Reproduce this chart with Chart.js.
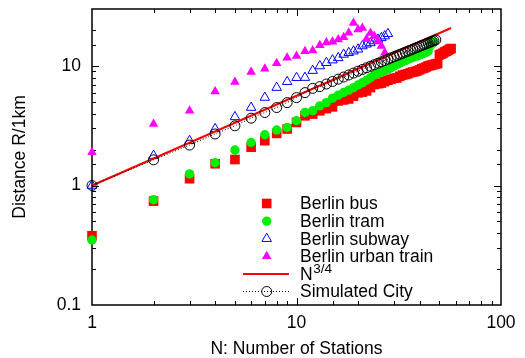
<!DOCTYPE html>
<html><head><meta charset="utf-8">
<script src="https://cdn.jsdelivr.net/npm/chart.js@4.4.0/dist/chart.umd.min.js"></script>
<style>html,body{margin:0;padding:0;background:#fff;}canvas{display:block;}</style>
</head><body>
<canvas id="c" width="525" height="358"></canvas>
<script>
// Number of stations N = 1, 2, 3, ... for each series; values are distance R in km
const busR = [0.38,0.74,1.14,1.52,1.65,2.09,2.37,2.73,2.97,3.37,3.83,3.96,4.22,4.4,4.55,5.1,5.2,5.3,5.6,5.96,
  6.05,6.19,6.6,7.0,7.1,7.2,7.4,7.6,7.75,7.9,7.95,8.2,8.4,8.5,8.6,8.8,8.9,9.0,9.1,9.3,
  9.5,9.6,9.8,10.0,10.1,10.2,10.3,10.4,10.5,12.4,12.6,12.8,13.1,13.3,13.5,13.8,14.0];
const tramR = [0.35,0.76,1.25,1.55,1.98,2.29,2.66,2.91,3.06,3.48,4.08,4.22,4.64,4.94,5.38,5.7,6.0,6.28,6.58,6.94,
  7.25,7.6,7.98,8.4,8.63,8.9,9.16,9.42,9.7,10.0,10.3,10.6,10.85,11.1,11.35,11.6,11.8,12.0,12.2,12.4,
  12.6,12.8,13.0,13.3,14.8,15.4,15.9];
const subwayR = [1.0,1.78,2.37,2.98,3.75,4.49,5.45,6.6,7.38,7.98,8.0,9.15,10.0,10.66,11.2,11.7,12.5,12.9,13.3,13.8,
  14.7,15.2,15.6,16.2,16.7,17.2,17.8,18.6];
const urbanR = [1.9,3.27,4.22,6.12,7.36,8.91,9.48,10.55,11.7,12.1,13.3,13.5,14.9,15.7,15.95,16.7,17.4,19.0,22.9,20.2,
  20.8,16.8,18.9,17.8,16.2,14.7,12.9];
const simR = [1.0,1.64,2.18,2.70,3.16,3.66,4.08,4.49,4.94,5.44,5.99,6.5,6.72,7.07,7.42,7.76,8.09,8.41,8.73,9.05,
  9.36,9.66,9.96,10.26,10.55,10.84,11.13,11.41,11.69,11.97,12.24,12.51,12.78,13.05,13.31,13.57,13.83,14.09,14.34,14.6,
  14.85,15.1,15.35,15.59,15.83,16.08,16.31,16.55];
const lawN = [1, 57];
const lawR = [1, 20.8];
const xTickLabels = [1, 10, 100];
const yTickLabels = [0.1, 1, 10];

const byN = arr => arr.map((v, i) => ({x: i + 1, y: v}));
const FONT = "'Liberation Sans', Arial, sans-serif";
const FS = 17.5;

const datasets = [
  {label:'Berlin bus', data: byN(busR), pointStyle:'rect', pointRadius:6.8, backgroundColor:'#ff0000', borderColor:'#ff0000', borderWidth:0, order:6, clip:false},
  {label:'Berlin tram', data: byN(tramR), pointStyle:'circle', pointRadius:4.7, backgroundColor:'#00ee00', borderColor:'#00ee00', borderWidth:0, order:5, clip:false},
  {label:'Berlin subway', data: byN(subwayR), pointStyle:'triangle', pointRadius:5.5, backgroundColor:'rgba(0,0,0,0)', borderColor:'#0000ff', borderWidth:1, order:4, clip:false},
  {label:'Berlin urban train', data: byN(urbanR), pointStyle:'triangle', pointRadius:5.5, backgroundColor:'#ff00ff', borderColor:'#ff00ff', borderWidth:0, order:3, clip:false},
  {label:'N', sup:'3/4', data: lawN.map((n,i)=>({x:n, y:lawR[i]})), showLine:true, pointRadius:0, borderColor:'#ff0000', borderWidth:2, order:2, clip:false},
  {label:'Simulated City', data: byN(simR), showLine:true, borderDash:[1,2], borderColor:'#000000', borderWidth:1, pointStyle:'circle', pointRadius:5, pointBorderWidth:1, backgroundColor:'rgba(0,0,0,0)', pointBorderColor:'#000', order:1, clip:false}
];

const isMajor = v => Math.abs(Math.log10(v) - Math.round(Math.log10(v))) < 1e-6;

const frame = {
  id: 'frame',
  beforeDatasetsDraw(chart) {
    const {ctx, chartArea: a, scales: {x, y}} = chart;
    ctx.save();
    ctx.strokeStyle = '#000';
    ctx.lineWidth = 1;
    const seg = (x1, y1, x2, y2) => { ctx.beginPath(); ctx.moveTo(x1, y1); ctx.lineTo(x2, y2); ctx.stroke(); };
    x.ticks.forEach(t => {
      const px = Math.round(x.getPixelForValue(t.value)) + 0.5;
      if (px < a.left + 1 || px > a.right - 1) return;
      const L = isMajor(t.value) ? 7 : 4;
      seg(px, a.bottom, px, a.bottom - L);
      seg(px, a.top, px, a.top + L);
    });
    y.ticks.forEach(t => {
      const py = Math.round(y.getPixelForValue(t.value)) + 0.5;
      if (py < a.top + 1 || py > a.bottom - 1) return;
      const L = isMajor(t.value) ? 7 : 4;
      seg(a.left, py, a.left + L, py);
      seg(a.right, py, a.right - L, py);
    });
    ctx.lineWidth = 1.5;
    ctx.strokeRect(a.left, a.top, a.right - a.left, a.bottom - a.top);
    ctx.restore();
  }
};

const key = {
  id: 'key',
  afterDatasetsDraw(chart) {
    const {ctx} = chart;
    const textX = 300, markX = 266.7, lineX1 = 243, lineX2 = 289;
    ctx.save();
    chart.data.datasets.forEach((ds, i) => {
      const base = 209.3 + 17.6 * i;
      const my = base - 5.8;
      if (ds.showLine) {
        ctx.save();
        ctx.strokeStyle = ds.borderColor;
        ctx.lineWidth = ds.borderWidth;
        ctx.setLineDash(ds.borderDash || []);
        ctx.beginPath(); ctx.moveTo(lineX1, my); ctx.lineTo(lineX2, my); ctx.stroke();
        ctx.restore();
      }
      if (ds.pointRadius > 0) {
        ctx.save();
        ctx.fillStyle = ds.backgroundColor;
        ctx.strokeStyle = ds.pointBorderColor || ds.borderColor;
        ctx.lineWidth = ds.pointBorderWidth || ds.borderWidth;
        Chart.helpers.drawPoint(ctx, {pointStyle: ds.pointStyle, radius: ds.pointRadius, rotation: 0, borderWidth: ds.pointBorderWidth || ds.borderWidth}, markX, my);
        ctx.restore();
      }
      ctx.fillStyle = '#000';
      ctx.textBaseline = 'alphabetic';
      ctx.textAlign = 'left';
      ctx.font = FS + 'px ' + FONT;
      ctx.fillText(ds.label, textX, base);
      if (ds.sup) {
        const w = ctx.measureText(ds.label).width;
        ctx.font = '13.5px ' + FONT;
        ctx.fillText(ds.sup, textX + w + 0.5, base - 6.5);
      }
    });
    ctx.restore();
  }
};

new Chart(document.getElementById('c'), {
  type: 'scatter',
  data: {datasets},
  plugins: [frame, key],
  options: {
    responsive: false,
    animation: false,
    devicePixelRatio: 1,
    layout: {padding: {top: 9, right: 24, left: 0, bottom: 0}},
    plugins: {legend: {display: false}, tooltip: {enabled: false}},
    scales: {
      x: {
        type: 'logarithmic', min: 1, max: 100,
        grid: {display: false, drawTicks: false}, border: {display: false},
        ticks: {
          autoSkip: false, maxRotation: 0, padding: 9, color: '#000',
          font: {family: FONT, size: FS, lineHeight: 1},
          callback: v => xTickLabels.some(t => Math.abs(t - v) < 1e-9) ? String(v) : ''
        },
        title: {display: true, text: 'N: Number of Stations', color: '#000', padding: {top: 0, bottom: 0}, font: {family: FONT, size: FS, lineHeight: 1}},
        afterFit: s => { s.height = 53; s.paddingLeft = 0; s.paddingRight = 0; }
      },
      y: {
        type: 'logarithmic', min: 0.1, max: 30,
        grid: {display: false, drawTicks: false}, border: {display: false},
        ticks: {
          autoSkip: false, padding: 11, color: '#000',
          font: {family: FONT, size: FS, lineHeight: 1},
          callback: v => yTickLabels.some(t => Math.abs(t - v) < 1e-9) ? String(v) : ''
        },
        title: {display: true, text: 'Distance R/1km', color: '#000', padding: {top: 11, bottom: 0}, font: {family: FONT, size: FS, lineHeight: 1}},
        afterFit: s => { s.width = 92; s.paddingTop = 0; s.paddingBottom = 0; }
      }
    }
  }
});
</script>
</body></html>
